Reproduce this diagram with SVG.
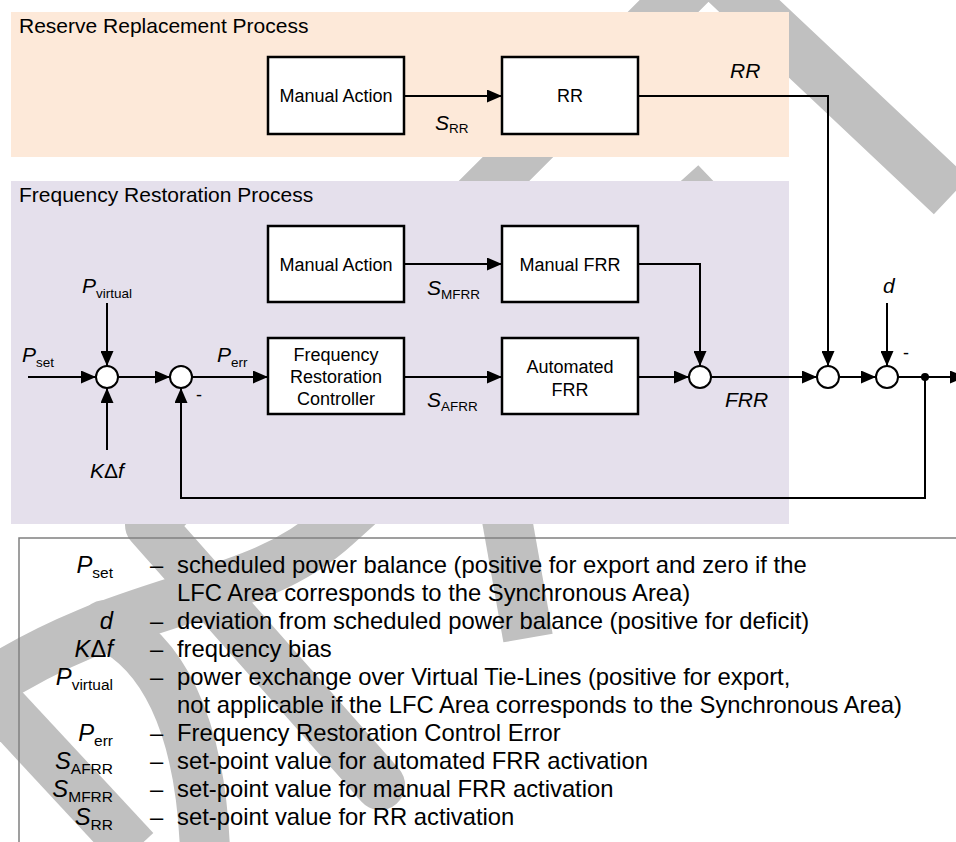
<svg xmlns="http://www.w3.org/2000/svg" width="956" height="842" viewBox="0 0 956 842">
<defs>
<marker id="arr" markerUnits="userSpaceOnUse" markerWidth="15" markerHeight="13" refX="15" refY="6.5" orient="auto">
<path d="M0,0 L15,6.5 L0,13 z" fill="#000"/>
</marker>
<style>
.t{font-family:"Liberation Sans",Arial,sans-serif;fill:#000}
.box{fill:#fff;stroke:#000;stroke-width:2.5}
.bt{font-size:18px;text-anchor:middle}
.ttl{font-size:21px}
.lab{font-size:21px;font-style:italic}
.sub{font-size:13.5px;font-style:normal}
.sum{fill:#fff;stroke:#000;stroke-width:2}
.con{fill:none;stroke:#000;stroke-width:2}
.arr{marker-end:url(#arr)}
.wm{fill:none;stroke:#C0C0C0;stroke-width:50}
.lg{font-size:23.8px}
.ls{font-size:23.8px;font-style:italic;text-anchor:end}
.lsub{font-size:15.5px;font-style:normal}
</style>
</defs>
<rect width="956" height="842" fill="#fff"/>
<g id="watermark">
<path class="wm" d="M150,525 L708,-33 L951,196" stroke-linejoin="miter"/>
<path class="wm" d="M150,525 L380,785" stroke-linecap="round"/>
<path class="wm" d="M740,245 L697,200 L337,525 C250,605 130,590 -20,690" stroke-linejoin="miter"/>
<path class="wm" d="M105,625 C160,650 200,720 205,850" stroke-linecap="round"/>
<path class="wm" d="M-60,640 L135,850"/>
<path class="wm" d="M500,480 L528,638"/>
</g>
<g id="rr-process">
<rect x="11" y="12" width="778" height="145" fill="#FDE9D9"/>
<text class="t ttl" x="19" y="33">Reserve Replacement Process</text>
</g>
<g id="fr-process">
<rect x="11" y="181" width="778" height="343" fill="#E5E0EC"/>
<text class="t ttl" x="19" y="202">Frequency Restoration Process</text>
</g>
<g id="connectors">
<path class="con arr" d="M404,96 L502,96"/>
<path class="con arr" d="M638,96 L828,96 L828,366"/>
<path class="con arr" d="M404,264 L502,264"/>
<path class="con arr" d="M638,264 L700,264 L700,366"/>
<path class="con arr" d="M404,377 L502,377"/>
<path class="con arr" d="M638,377 L689,377"/>
<path class="con arr" d="M711,377 L817,377"/>
<path class="con arr" d="M839,377 L876,377"/>
<path class="con arr" d="M887,303 L887,366"/>
<path class="con arr" d="M898,377 L965,377"/>
<path class="con arr" d="M925,377 L925,498 L181,498 L181,388"/>
<path class="con arr" d="M28,377 L96,377"/>
<path class="con arr" d="M107,303 L107,366"/>
<path class="con arr" d="M107,450 L107,388"/>
<path class="con arr" d="M118,377 L170,377"/>
<path class="con arr" d="M192,377 L268,377"/>
<circle cx="925" cy="377" r="4" fill="#000"/>
</g>
<g id="manual-action-rr">
<rect class="box" x="268" y="57" width="136" height="77"/>
<text class="t bt" x="336" y="102">Manual Action</text>
</g>
<g id="rr">
<rect class="box" x="502" y="57" width="136" height="77"/>
<text class="t bt" x="570" y="102">RR</text>
</g>
<g id="manual-action-frr">
<rect class="box" x="268" y="226" width="136" height="76"/>
<text class="t bt" x="336" y="271">Manual Action</text>
</g>
<g id="manual-frr">
<rect class="box" x="502" y="226" width="136" height="76"/>
<text class="t bt" x="570" y="271">Manual FRR</text>
</g>
<g id="frc">
<rect class="box" x="268" y="338" width="136" height="76"/>
<text class="t bt" x="336" y="361">Frequency</text>
<text class="t bt" x="336" y="383">Restoration</text>
<text class="t bt" x="336" y="405">Controller</text>
</g>
<g id="automated-frr">
<rect class="box" x="502" y="338" width="136" height="76"/>
<text class="t bt" x="570" y="373">Automated</text>
<text class="t bt" x="570" y="396">FRR</text>
</g>
<g id="sum1"><circle class="sum" cx="107" cy="377" r="11"/></g>
<g id="sum-fb"><circle class="sum" cx="181" cy="377" r="11"/>
<text class="t" x="196" y="401" font-size="18">-</text></g>
<g id="sum-frr"><circle class="sum" cx="700" cy="377" r="11"/></g>
<g id="sum2"><circle class="sum" cx="828" cy="377" r="11"/></g>
<g id="sum3"><circle class="sum" cx="887" cy="377" r="11"/>
<text class="t" x="903" y="359" font-size="18">-</text></g>
<g id="labels">
<text class="t lab" x="435" y="130">S<tspan class="sub" dy="3">RR</tspan></text>
<text class="t lab" x="730" y="78">RR</text>
<text class="t lab" x="427" y="295">S<tspan class="sub" dy="4">MFRR</tspan></text>
<text class="t lab" x="427" y="407">S<tspan class="sub" dy="4">AFRR</tspan></text>
<text class="t lab" x="725" y="407">FRR</text>
<text class="t lab" x="883" y="293">d</text>
<text class="t lab" x="22" y="362">P<tspan class="sub" dy="5">set</tspan></text>
<text class="t lab" x="82" y="293">P<tspan class="sub" dy="5">virtual</tspan></text>
<text class="t lab" x="90" y="478">K<tspan font-style="normal">Δ</tspan>f</text>
<text class="t lab" x="217" y="362">P<tspan class="sub" dy="5">err</tspan></text>
</g>
<g id="legend">
<rect x="19" y="538" width="960" height="340" fill="none" stroke="#808080" stroke-width="1.5"/>
<text class="t ls" x="113" y="572.5">P<tspan class="lsub" dy="5">set</tspan></text>
<text class="t ls" x="113" y="628.7">d</text>
<text class="t ls" x="113" y="656.8">K<tspan font-style="normal">Δ</tspan>f</text>
<text class="t ls" x="113" y="684.9">P<tspan class="lsub" dy="5">virtual</tspan></text>
<text class="t ls" x="113" y="741">P<tspan class="lsub" dy="5">err</tspan></text>
<text class="t ls" x="113" y="769">S<tspan class="lsub" dy="5">AFRR</tspan></text>
<text class="t ls" x="113" y="797">S<tspan class="lsub" dy="5">MFRR</tspan></text>
<text class="t ls" x="113" y="825">S<tspan class="lsub" dy="5">RR</tspan></text>
<text class="t lg" x="150" y="572.5">–</text>
<text class="t lg" x="150" y="628.7">–</text>
<text class="t lg" x="150" y="656.8">–</text>
<text class="t lg" x="150" y="684.9">–</text>
<text class="t lg" x="150" y="741">–</text>
<text class="t lg" x="150" y="769">–</text>
<text class="t lg" x="150" y="797">–</text>
<text class="t lg" x="150" y="825">–</text>
<text class="t lg" x="177" y="572.5">scheduled power balance (positive for export and zero if the</text>
<text class="t lg" x="177" y="600.6">LFC Area corresponds to the Synchronous Area)</text>
<text class="t lg" x="177" y="628.7">deviation from scheduled power balance (positive for deficit)</text>
<text class="t lg" x="177" y="656.8">frequency bias</text>
<text class="t lg" x="177" y="684.9">power exchange over Virtual Tie-Lines (positive for export,</text>
<text class="t lg" x="177" y="713">not applicable if the LFC Area corresponds to the Synchronous Area)</text>
<text class="t lg" x="177" y="741">Frequency Restoration Control Error</text>
<text class="t lg" x="177" y="769">set-point value for automated FRR activation</text>
<text class="t lg" x="177" y="797">set-point value for manual FRR activation</text>
<text class="t lg" x="177" y="825">set-point value for RR activation</text>
</g>
</svg>
